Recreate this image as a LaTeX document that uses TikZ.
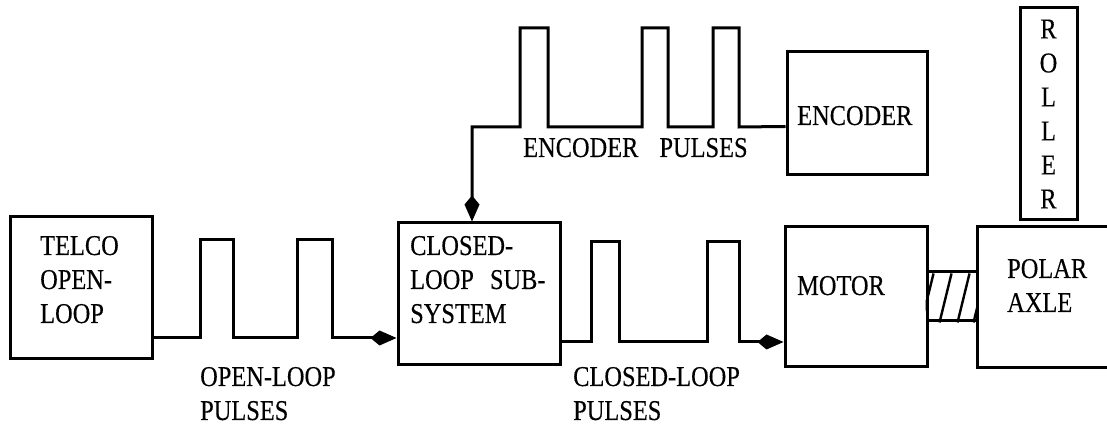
\documentclass[tikz,border=0pt]{standalone}
\usepackage{fontspec}
\setmainfont[FakeStretch=0.85,FakeBold=0.3]{Liberation Serif}
\usetikzlibrary{arrows.meta,positioning,calc}

\tikzset{
  blk/.style={draw, line width=3pt, inner sep=0pt},
  sig/.style={line width=3pt, line join=miter},
  lbl/.style={font=\fontsize{28.7pt}{34pt}\selectfont, inner sep=0pt, align=left, anchor=base west},
  tip/.style={-{Kite[length=26pt,width=15pt,inset=9pt]}}
}

\begin{document}
\begin{tikzpicture}[x=1pt,y=1pt]
    \useasboundingbox (0,0) rectangle (1107,427);
    \clip (0,0) rectangle (1107,427);
    % blocks
    \node[blk, minimum width=142pt, minimum height=142pt] (telco) at (81,139) {};
    \node[blk, minimum width=162pt, minimum height=142pt] (closed) at (479,133) {};
    \node[blk, minimum width=142pt, minimum height=140pt] (motor) at (856,130) {};
    \node[blk, minimum width=153pt, minimum height=141pt] (polar) at (1053.5,129.5) {};
    \node[blk, minimum width=140pt, minimum height=123pt] (enc) at (857,313.5) {};
    \node[blk, minimum width=57pt, minimum height=212pt, align=center,
          font=\fontsize{28.7pt}{34pt}\selectfont] (roller) at (1048.5,313) {R\\O\\L\\L\\E\\R};
    \node[blk, minimum width=50pt, minimum height=49pt] (shaft) at (952,130.5) {};
    \begin{scope}
        \clip (shaft.south west) rectangle (shaft.north east);
        \foreach \s in {-4,14,32,48}
            \draw[sig, line width=2.4pt] ($(shaft.south west)+(\s,0)$) -- ++(12,49);
    \end{scope}
    % texts
    \node[lbl] (telcotxt) at (40,104) {TELCO\\OPEN-\\LOOP};
    \node[lbl] (cltxt) at (410,104) {CLOSED-\\LOOP\hspace{10pt} SUB-\\SYSTEM};
    \node[lbl] (motortxt) at (797,132) {MOTOR};
    \node[lbl] (polartxt) at (1007,115) {POLAR\\AXLE};
    \node[lbl] (enctxt) at (797,302) {ENCODER};
    \node[lbl] (olptxt) at (200,7) {OPEN-LOOP\\PULSES};
    \node[lbl] (clptxt) at (573,7) {CLOSED-LOOP\\PULSES};
    \node[lbl] (encptxt) at (523,270) {ENCODER\hspace{15pt} PULSES};
    % pulse trains
    \draw[sig, tip] (telco.east |- 0,89) -- (200,89) -- (200,187) -- (233,187) -- (233,89)
        -- (297,89) -- (297,187) -- (332,187) -- (332,89) -- (closed.west |- 0,89);
    \draw[sig, tip] (closed.east |- 0,85) -- (591,85) -- (591,185) -- (619,185) -- (619,85)
        -- (707,85) -- (707,185) -- (739,185) -- (739,85) -- (motor.west |- 0,85);
    \draw[sig, tip] ($(enc.west)+(0,-13)$) -- (739,300) -- (739,399) -- (713,399) -- (713,300)
        -- (668,300) -- (668,399) -- (642,399) -- (642,300) -- (548,300) -- (548,399)
        -- (520,399) -- (520,300) -- (472,300) -- (closed.north -| 472,0);
    % encoder to roller
    \draw[sig] ($(enc.east)+(0,19)$) -- ($(enc.east)+(0,19)$ -| roller.west);
    \draw[sig] ($(enc.east)+(0,-21)$) -- ($(enc.east)+(0,-21)$ -| roller.west);
\end{tikzpicture}
\end{document}
